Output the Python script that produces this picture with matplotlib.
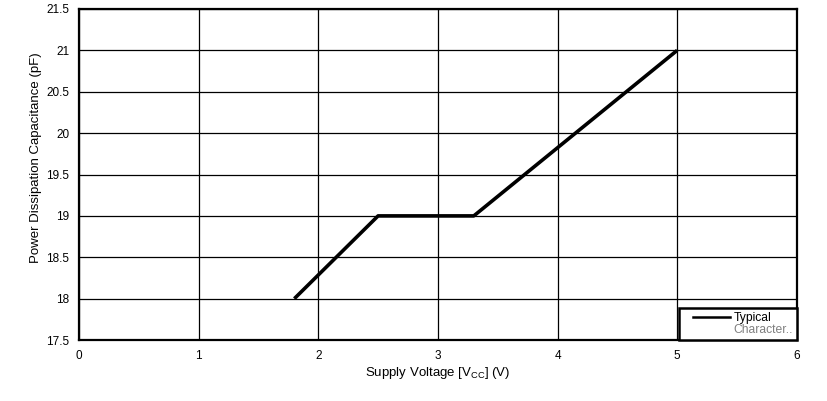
import matplotlib
matplotlib.use("Agg")
import matplotlib.pyplot as plt
from matplotlib.lines import Line2D
from matplotlib.legend_handler import HandlerLine2D

plt.rcParams['font.family'] = ['Liberation Sans', 'DejaVu Sans']

vcc = [1.8, 2.5, 3.3, 5.0]
cpd = [18.0, 19.0, 19.0, 21.0]
xticks = [0, 1, 2, 3, 4, 5, 6]
yticks = [17.5, 18, 18.5, 19, 19.5, 20, 20.5, 21, 21.5]
yticklabels = ["17.5", "18", "18.5", "19", "19.5", "20", "20.5", "21", "21.5"]


class RightLineHandler(HandlerLine2D):
    def get_xdata(self, legend, xdescent, ydescent, width, height, fontsize):
        xd, xm = super().get_xdata(legend, xdescent, ydescent, width, height, fontsize)
        x0 = -xdescent + 0.22 * width
        x1 = -xdescent + width
        return [x0, x1], xm


fig = plt.figure(figsize=(8.27, 4.01), dpi=100)
ax = fig.add_axes([0.0955, 0.152, 0.868, 0.8256])
ax.plot(vcc, cpd, color='black', linewidth=2.6, solid_capstyle='butt')
ax.set_xlim(0, 6)
ax.set_ylim(17.5, 21.5)
ax.set_xticks(xticks)
ax.set_yticks(yticks)
ax.set_yticklabels(yticklabels)
ax.grid(True, color='black', linewidth=0.9)
ax.tick_params(length=0, labelsize=8.5, pad=7)
for s in ax.spines.values():
    s.set_linewidth(1.6)
ax.set_xlabel("Supply Voltage [V$_{\\mathregular{CC}}$] (V)", fontsize=9.5, labelpad=2)
ax.set_ylabel("Power Dissipation Capacitance (pF)", fontsize=9.5)
ax.yaxis.set_label_coords(-0.052, 0.55)

typ = Line2D([], [], color='black', linewidth=1.8)
blank = Line2D([], [], color='none')
leg = ax.legend([typ, blank], ["Typical", "Character.."], loc='lower right',
                borderaxespad=0, fancybox=False, fontsize=8.7,
                handlelength=3.9, labelspacing=0.05, borderpad=0.3,
                handletextpad=0.3, handleheight=0.7, framealpha=1,
                handler_map={typ: RightLineHandler()})
leg.get_frame().set_edgecolor('black')
leg.get_frame().set_linewidth(1.8)
leg.get_texts()[1].set_color('#808080')

fig.savefig("out.png", dpi=100)
